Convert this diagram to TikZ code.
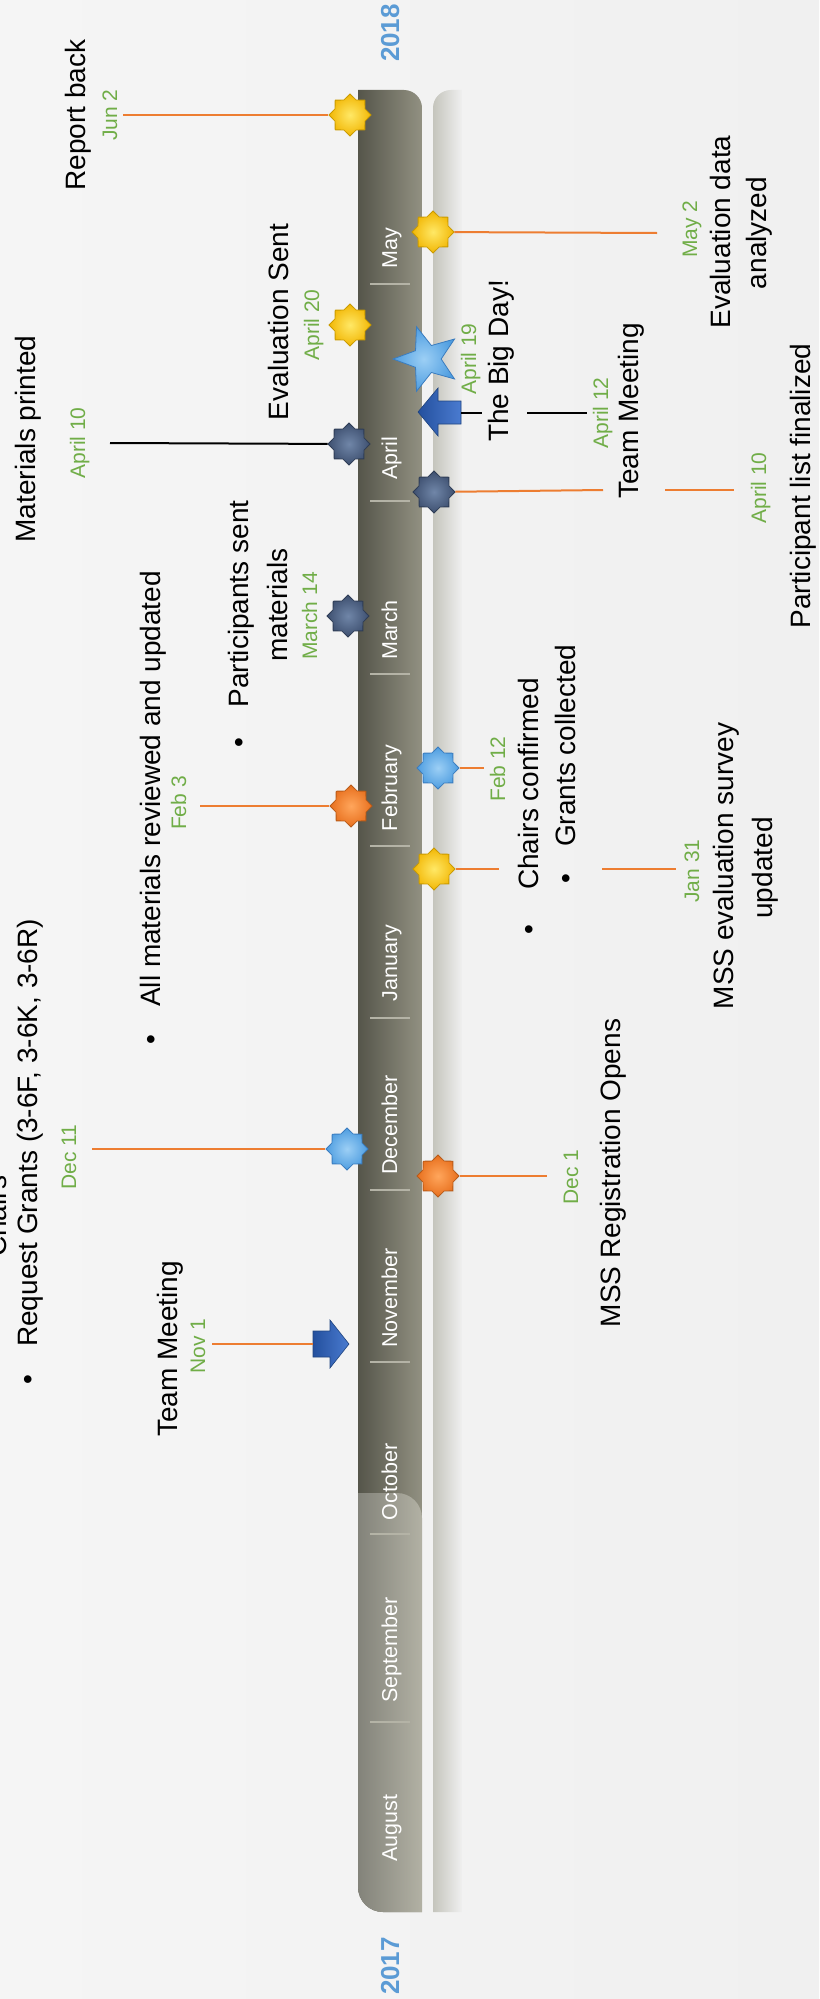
\documentclass[tikz,border=0pt]{standalone}
\usepackage{fontspec}
\setmainfont{Liberation Sans}
\usetikzlibrary{shapes.geometric}
\definecolor{bgc}{HTML}{F0F0F0}
\definecolor{bgl}{HTML}{F5F5F5}
\definecolor{barL}{HTML}{55554A}
\definecolor{barR}{HTML}{929182}
\definecolor{barLL}{HTML}{83837A}
\definecolor{barLR}{HTML}{B2B1A4}
\definecolor{shd}{HTML}{C4C4BC}
\definecolor{divc}{HTML}{B4B3A6}
\definecolor{dgreen}{HTML}{70AD47}
\definecolor{orln}{HTML}{ED7D31}
\definecolor{yearc}{HTML}{5B9BD5}
\definecolor{yIn}{HTML}{FFE866}
\definecolor{yOut}{HTML}{F2B705}
\definecolor{yDr}{HTML}{C99A00}
\definecolor{oIn}{HTML}{FFA65C}
\definecolor{oOut}{HTML}{E8701E}
\definecolor{oDr}{HTML}{B85A18}
\definecolor{bIn}{HTML}{9CCFF5}
\definecolor{bOut}{HTML}{4E9DE0}
\definecolor{bDr}{HTML}{3A7CBF}
\definecolor{sIn}{HTML}{7086A8}
\definecolor{sOut}{HTML}{3E5070}
\definecolor{sDr}{HTML}{2E3C55}
\definecolor{aL}{HTML}{24509E}
\definecolor{aR}{HTML}{4A7BD0}
\definecolor{aDr}{HTML}{1F447F}
\begin{document}
\begin{tikzpicture}[x=1pt,y=-1pt,
  lbl/.style={rotate=90,inner sep=0,anchor=base,font=\fontsize{28}{34}\selectfont},
  dte/.style={rotate=90,inner sep=0,anchor=base,text=dgreen,font=\fontsize{21}{25}\selectfont},
  mon/.style={rotate=90,inner sep=0,anchor=base,text=white,font=\fontsize{21.5}{25}\selectfont},
  yr/.style={rotate=90,inner sep=0,anchor=base,text=yearc,font=\fontsize{26}{30}\selectfont\bfseries},
  star8/.style={star,star points=8,star point ratio=1.3,minimum size=42,inner sep=0,line width=0.8},
  ystar/.style={star8,draw=yDr,inner color=yIn,outer color=yOut},
  ostar/.style={star8,draw=oDr,inner color=oIn,outer color=oOut},
  bstar/.style={star8,draw=bDr,inner color=bIn,outer color=bOut},
  sstar/.style={star8,draw=sDr,inner color=sIn,outer color=sOut},
  bigstar/.style={star,star points=5,star point ratio=2.4,minimum size=68,inner sep=0,shape border rotate=90,draw=bDr,line width=0.8,inner color=bIn,outer color=bOut},
  arrowshape/.style={left color=aL,right color=aR,draw=aDr,line width=0.6},
  oline/.style={draw=orln,line width=2},
  bline/.style={draw=black,line width=2},
  divline/.style={draw=divc,line width=1.2}]
\useasboundingbox (0,0) rectangle (819,1999);
% background
\shade[left color=bgl,right color=bgc] (0,0) rectangle (819,1999);
% shadow strip
\shade[left color=shd,right color=bgc] (433,1912) -- (433,108) .. controls (433,98) and (441,90) .. (451,90) -- (462,90) -- (462,1912) -- cycle;
% main bar
\shade[left color=barL,right color=barR] (358,90) -- (404,90) .. controls (413.9,90) and (422,98.1) .. (422,108) -- (422,1912) -- (383,1912) .. controls (369.2,1912) and (358,1900.8) .. (358,1887) -- cycle;
% lighter lower segment
\shade[left color=barLL,right color=barLR] (358,1493) -- (397,1493) .. controls (410.8,1493) and (422,1504.2) .. (422,1518) -- (422,1912) -- (383,1912) .. controls (369.2,1912) and (358,1900.8) .. (358,1887) -- cycle;
% month dividers
\foreach \yy in {284,501,674,846,1018,1190,1362,1534,1722}
  \draw[divline] (370,\yy) -- (410,\yy);
% month labels
\node[mon] (mmay) at (397,248) {May};
\node[mon] (mapr) at (397,458) {April};
\node[mon] (mmar) at (397,630) {March};
\node[mon] (mfeb) at (397,788) {February};
\node[mon] (mjan) at (397,963) {January};
\node[mon] (mdec) at (397,1125) {December};
\node[mon] (mnov) at (397,1298) {November};
\node[mon] (moct) at (397,1482) {October};
\node[mon] (msep) at (397,1650) {September};
\node[mon] (maug) at (397,1828) {August};
% years
\node[yr] (y2018) at (399,33) {2018};
\node[yr] (y2017) at (399,1966) {2017};
% free ends of connectors
\coordinate (c-jun2) at (123,115);
\coordinate (c-apr10l) at (110,443);
\coordinate (c-feb3) at (200,806);
\coordinate (c-dec11) at (92,1149);
\coordinate (c-nov1) at (212,1344);
\coordinate (c-may2) at (657,233);
\coordinate (c-apr12a) at (482,413);
\coordinate (c-apr12b) at (527,413);
\coordinate (c-apr12c) at (587,413);
\coordinate (c-apr10ra) at (603,490);
\coordinate (c-apr10rb) at (665,490);
\coordinate (c-apr10rc) at (734,490);
\coordinate (c-feb12) at (484,768);
\coordinate (c-jan31a) at (499,869);
\coordinate (c-jan31b) at (602,869);
\coordinate (c-jan31c) at (676,869);
\coordinate (c-dec1) at (547,1176);
% markers (left side)
\node[ystar] (m-jun2) at (350,115) {};
\node[ystar] (m-apr20) at (350,325) {};
\node[sstar] (m-apr10l) at (349,444) {};
\node[sstar] (m-mar14) at (348,616) {};
\node[ostar] (m-feb3) at (351,806) {};
\node[bstar] (m-dec11) at (347,1149) {};
\shade[arrowshape] (313,1331) -- (330,1331) -- (330,1320) -- (349,1344) -- (330,1368) -- (330,1357) -- (313,1357) -- cycle;
\coordinate (m-nov1) at (313,1344);
% markers (right side)
\node[ystar] (m-may2) at (433,232) {};
\node[bigstar] (m-apr19) at (427,359) {};
\shade[arrowshape] (461,401) -- (438,401) -- (438,388) -- (418,412) -- (438,436) -- (438,424) -- (461,424) -- cycle;
\coordinate (m-apr12) at (461,413);
\node[sstar] (m-apr10r) at (434,492) {};
\node[bstar] (m-feb12) at (438,768) {};
\node[ystar] (m-jan31) at (434,869) {};
\node[ostar] (m-dec1) at (438,1176) {};
% connectors
\draw[oline] (m-jun2) -- (c-jun2);
\draw[bline] (m-apr10l) -- (c-apr10l);
\draw[oline] (m-feb3) -- (c-feb3);
\draw[oline] (m-dec11) -- (c-dec11);
\draw[oline] (m-nov1) -- (c-nov1);
\draw[oline] (m-may2) -- (c-may2);
\draw[bline] (m-apr12) -- (c-apr12a);
\draw[bline] (c-apr12b) -- (c-apr12c);
\draw[oline] (m-apr10r) -- (c-apr10ra);
\draw[oline] (c-apr10rb) -- (c-apr10rc);
\draw[oline] (m-feb12) -- (c-feb12);
\draw[oline] (m-jan31) -- (c-jan31a);
\draw[oline] (c-jan31b) -- (c-jan31c);
\draw[oline] (m-dec1) -- (c-dec1);
% dates
\node[dte] (d-jun2) at (117,115) {Jun 2};
\node[dte] (d-apr20) at (319,325) {April 20};
\node[dte] (d-apr10l) at (85,443) {April 10};
\node[dte] (d-mar14) at (317,616) {March 14};
\node[dte] (d-feb3) at (186,803) {Feb 3};
\node[dte] (d-dec11) at (76,1157) {Dec 11};
\node[dte] (d-nov1) at (205,1346) {Nov 1};
\node[dte] (d-may2) at (697,229) {May 2};
\node[dte] (d-apr19) at (476,359) {April 19};
\node[dte] (d-apr12) at (608,413) {April 12};
\node[dte] (d-apr10r) at (766,488) {April 10};
\node[dte] (d-feb12) at (505,769) {Feb 12};
\node[dte] (d-jan31) at (699,871) {Jan 31};
\node[dte] (d-dec1) at (578,1177) {Dec 1};
% labels
\node[lbl] (t-report) at (85,115) {Report back};
\node[lbl] (t-evsent) at (288,322) {Evaluation Sent};
\node[lbl] (t-matpr) at (35,439) {Materials printed};
\node[lbl] (b-allmat) at (160,1040) {\textbullet};
\node[lbl,anchor=base west] (t-allmat) at (160,1007) {All materials reviewed and updated};
\node[lbl] (b-partsent) at (248,743) {\textbullet};
\node[lbl] (t-partsent1) at (248,604) {Participants sent};
\node[lbl] (t-partsent2) at (287,605) {materials};
\node[lbl] (b-reqgr) at (37,1380) {\textbullet};
\node[lbl,anchor=base west] (t-reqgr) at (37,1347) {Request Grants (3-6F, 3-6K, 3-6R)};
\node[lbl,anchor=base west] (t-chairs) at (6,1257) {Chairs};
\node[lbl] (t-team1) at (177,1349) {Team Meeting};
\node[lbl] (t-evdata1) at (730,232) {Evaluation data};
\node[lbl] (t-evdata2) at (766,233) {analyzed};
\node[lbl] (t-bigday) at (508,361) {The Big Day!};
\node[lbl] (t-team2) at (638,411) {Team Meeting};
\node[lbl] (t-partlist) at (810,486) {Participant list finalized};
\node[lbl] (b-chconf) at (538,930) {\textbullet};
\node[lbl,anchor=base west] (t-chconf) at (538,890) {Chairs confirmed};
\node[lbl] (b-grcol) at (575,879) {\textbullet};
\node[lbl,anchor=base west] (t-grcol) at (575,847) {Grants collected};
\node[lbl] (t-msseval1) at (733,866) {MSS evaluation survey};
\node[lbl] (t-msseval2) at (772,868) {updated};
\node[lbl] (t-mssreg) at (620,1173) {MSS Registration Opens};
\end{tikzpicture}
\end{document}
